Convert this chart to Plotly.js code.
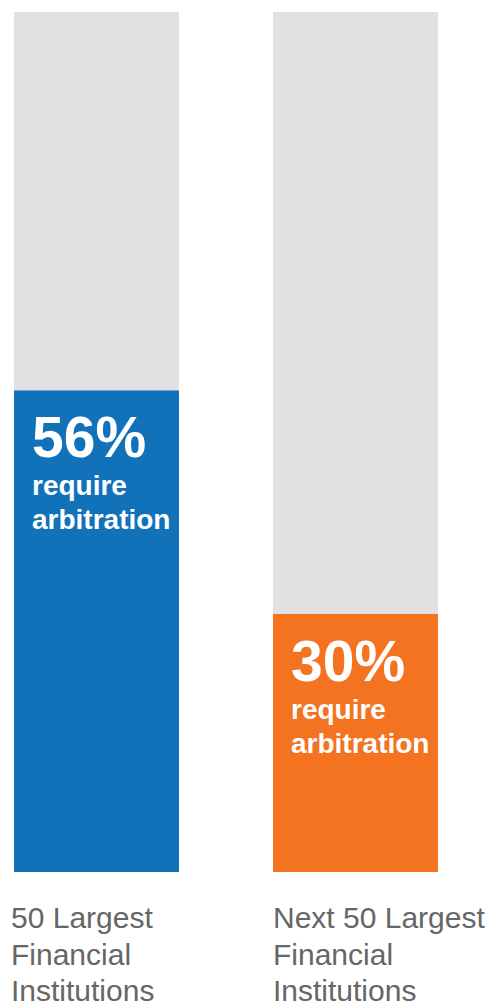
<!DOCTYPE html>
<html>
<head>
<meta charset="utf-8">
<script src="https://cdn.plot.ly/plotly-3.0.1.min.js"></script>
<style>html,body{margin:0;padding:0;background:#fff;}#chart{width:491px;height:1003px;}</style>
</head>
<body>
<div id="chart"></div>
<script>
const categories = ["50 Largest<br>Financial<br>Institutions", "Next 50 Largest<br>Financial<br>Institutions"];
const percentValues = [56, 30];
const totalValues = [100, 100];
const barColors = ["#1172BA", "#F37321"];
const pctLabels = ["56%", "30%"];
const subLabel = "require<br>arbitration";

const xs = [0, 1];
const barWidth = 0.637;
const font = "'Liberation Sans', Arial, Helvetica, sans-serif";
const labelXShift = [-5, -2];

const traces = [
  {type: "bar", x: xs, y: totalValues, width: barWidth, marker: {color: "#E1E1E3"}, hoverinfo: "skip"},
  {type: "bar", x: xs, y: percentValues, width: barWidth, marker: {color: barColors}, hoverinfo: "skip"}
];

const annotations = [];
xs.forEach((x, i) => {
  const left = x - barWidth / 2;
  annotations.push({xref: "x", yref: "y", x: left, y: percentValues[i], xanchor: "left", yanchor: "top",
    xshift: 16, yshift: -13, showarrow: false, align: "left",
    text: "<b>" + pctLabels[i] + "</b>", font: {family: font, size: 57, color: "#fff"}});
  subLabel.split("<br>").forEach((line, j) => {
    annotations.push({xref: "x", yref: "y", x: left, y: percentValues[i], xanchor: "left", yanchor: "top",
      xshift: 16, yshift: -78 - 33.5 * j, showarrow: false, align: "left",
      text: "<b>" + line + "</b>", font: {family: font, size: 28, color: "#fff"}});
  });
  categories[i].split("<br>").forEach((line, j) => {
    annotations.push({xref: "x", yref: "paper", x: left, y: 0, xanchor: "left", yanchor: "top",
      xshift: labelXShift[i], yshift: -27 - 36.6 * j, showarrow: false, align: "left",
      text: line, font: {family: font, size: 30, color: "#666666"}});
  });
});

const layout = {
  width: 491, height: 1003,
  margin: {l: 0, r: 0, t: 12, b: 131},
  barmode: "overlay",
  showlegend: false,
  paper_bgcolor: "#fff", plot_bgcolor: "#fff",
  xaxis: {range: [-0.3726, 1.5232], showgrid: false, zeroline: false, showticklabels: false, ticks: "", fixedrange: true},
  yaxis: {range: [0, 100], showgrid: false, zeroline: false, showticklabels: false, ticks: "", fixedrange: true},
  annotations: annotations
};

Plotly.newPlot("chart", traces, layout, {displayModeBar: false, staticPlot: true});
</script>
</body>
</html>
